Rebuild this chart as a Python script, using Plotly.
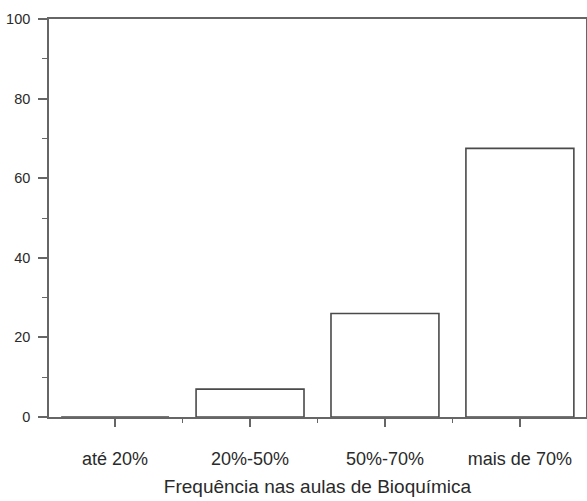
import plotly.graph_objects as go

categories = ["até 20%", "20%-50%", "50%-70%", "mais de 70%"]
values = [0, 7, 26, 67.5]
y_ticks = [0, 20, 40, 60, 80, 100]
x_title = "Frequência nas aulas de Bioquímica"

xpos = list(range(len(categories)))

fig = go.Figure(
    go.Bar(
        x=xpos,
        y=values,
        width=0.8,
        marker=dict(color="white", line=dict(color="#4a4a4a", width=1.6)),
    )
)

axis_color = "#666666"
font_color = "#2a2a2a"

fig.update_layout(
    width=587,
    height=501,
    margin=dict(l=49, r=1, t=19, b=84),
    paper_bgcolor="white",
    plot_bgcolor="white",
    font=dict(family="Liberation Sans, Arial, sans-serif", color=font_color),
    showlegend=False,
    xaxis=dict(
        automargin=False,
        range=[-0.49, 3.49],
        tickmode="array",
        tickvals=xpos,
        ticktext=categories,
        ticks="outside",
        ticklen=8,
        tickwidth=1.5,
        tickcolor=axis_color,
        ticklabelstandoff=17,
        showline=True,
        linecolor=axis_color,
        linewidth=1.6,
        mirror=True,
        showgrid=False,
        zeroline=False,
        tickfont=dict(size=18, color=font_color),
        minor=dict(tickmode="linear", tick0=0.5, dtick=1, ticks="outside",
                   ticklen=4, tickwidth=1.2, tickcolor=axis_color),
        title=dict(text=x_title, font=dict(size=19, color=font_color), standoff=11),
    ),
    yaxis=dict(
        automargin=False,
        range=[0, 100],
        tickmode="array",
        tickvals=y_ticks,
        ticks="outside",
        ticklen=9,
        tickwidth=1.5,
        tickcolor=axis_color,
        ticklabelstandoff=5,
        showline=True,
        linecolor=axis_color,
        linewidth=1.6,
        mirror=True,
        showgrid=False,
        zeroline=False,
        tickfont=dict(size=14.5, color=font_color),
        minor=dict(tickmode="linear", tick0=10, dtick=20, ticks="outside",
                   ticklen=5, tickwidth=1.2, tickcolor=axis_color),
    ),
)

fig.write_html(
    "out.html",
    config={"displayModeBar": False},
    post_script="document.body.style.margin='0';document.body.style.overflow='hidden';",
)
